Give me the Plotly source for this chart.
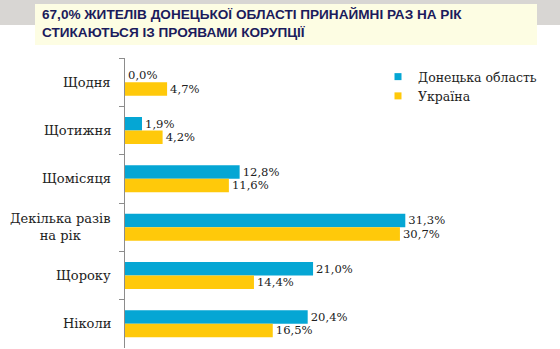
import plotly.graph_objects as go

categories = ["Щодня", "Щотижня", "Щомісяця", "Декілька разів<br>на рік", "Щороку", "Ніколи"]
donetsk = [0.0, 1.9, 12.8, 31.3, 21.0, 20.4]
ukraine = [4.7, 4.2, 11.6, 30.7, 14.4, 16.5]
series_names = ["Донецька область", "Україна"]
title_text = "67,0% ЖИТЕЛІВ ДОНЕЦЬКОЇ ОБЛАСТІ ПРИНАЙМНІ РАЗ НА РІК<br>СТИКАЮТЬСЯ ІЗ ПРОЯВАМИ КОРУПЦІЇ"

BLUE = "#05A6D4"
YELLOW = "#FFC90A"
SERIF = "DejaVu Serif"

def fmt(v):
    return f"{v:.1f}".replace(".", ",") + "%"

fig = go.Figure()
for name, vals, col in [(series_names[0], donetsk, BLUE), (series_names[1], ukraine, YELLOW)]:
    fig.add_trace(go.Bar(
        y=categories, x=vals, orientation="h", name=name,
        marker=dict(color=col, line=dict(width=0)),
        text=[fmt(v) for v in vals], textposition="outside",
        textfont=dict(family=SERIF, size=12, color="#222222"),
        cliponaxis=False, showlegend=False, hoverinfo="skip",
    ))
    fig.add_trace(go.Scatter(
        x=[None], y=[None], mode="markers", name=name,
        marker=dict(color=col, symbol="square", size=7),
        showlegend=True, hoverinfo="skip",
    ))

L, R, T, B = 125, 15, 58, 1
W, H = 560, 349
pw, ph = W - L - R, H - T - B

def px_x(p):
    return (p - L) / pw

def px_y(p):
    return (H - B - p) / ph

shapes = [
    dict(type="rect", xref="paper", yref="paper", x0=px_x(0), x1=px_x(W), y0=px_y(25), y1=px_y(0),
         fillcolor="#D8D6D3", line=dict(width=0), layer="below"),
    dict(type="rect", xref="paper", yref="paper", x0=px_x(35), x1=px_x(537), y0=px_y(45), y1=px_y(4),
         fillcolor="#FDFDE3", line=dict(width=0), layer="below"),
]

annotations = [
    dict(text="<b>" + title_text + "</b>", xref="paper", yref="paper", x=px_x(40), y=px_y(23),
         xanchor="left", yanchor="middle", align="left", showarrow=False,
         font=dict(family="Liberation Sans", size=13.6, color="#1B1B5C")),
]
for c in categories:
    annotations.append(dict(text=c, xref="paper", yref="y", x=px_x(113), y=c,
                            xanchor="right", yanchor="middle", align="center", showarrow=False,
                            font=dict(family=SERIF, size=13, color="#222222")))

fig.update_layout(
    width=W, height=H,
    margin=dict(l=L, r=R, t=T, b=B),
    paper_bgcolor="white", plot_bgcolor="white",
    barmode="group", bargap=0.44, bargroupgap=0,
    xaxis=dict(range=[0, 46.9], visible=False),
    yaxis=dict(autorange="reversed", showline=True, linecolor="#8C8C8C", linewidth=1,
               ticks="outside", ticklen=5, tickcolor="#8C8C8C", tickson="boundaries",
               showticklabels=False, showgrid=False, zeroline=False),
    legend=dict(x=px_x(378), y=px_y(62), xanchor="left", yanchor="top",
                font=dict(family=SERIF, size=12.5, color="#222222"),
                bgcolor="rgba(0,0,0,0)", tracegroupgap=0),
    shapes=shapes, annotations=annotations,
    showlegend=True,
)

fig.write_html("out.html")
